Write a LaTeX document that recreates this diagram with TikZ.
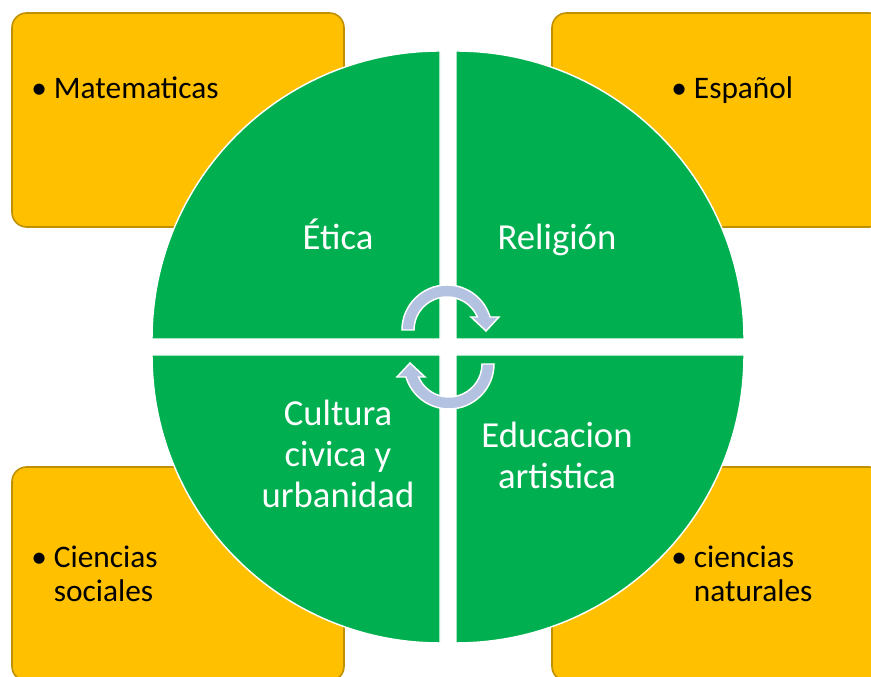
\documentclass[tikz,border=0pt]{standalone}
\usepackage{fontspec}
\setmainfont{Carlito}
\usepackage{tikz}
\definecolor{amarillo}{RGB}{255,192,0}
\definecolor{dorado}{RGB}{191,144,0}
\definecolor{verde}{RGB}{0,176,80}
\definecolor{lila}{RGB}{180,194,226}
\tikzstyle{caja}  =[fill=amarillo, draw=dorado, line width=1.2pt,
                    rounded corners=11pt]
\tikzstyle{cuarto}=[fill=verde, draw=white, line width=1.1pt]
\tikzstyle{giro}  =[fill=lila, draw=white, line width=1.1pt,
                    line join=miter]
\tikzstyle{tcaja} =[anchor=base west, align=left, inner sep=0pt,
                    text=black, font=\fontsize{23.5}{26}\selectfont]
\tikzstyle{tcuarto}=[anchor=base, align=center, inner sep=0pt,
                    text=white, font=\fontsize{27.5}{30.75}\selectfont]
\begin{document}
\begin{tikzpicture}[x=0.75pt, y=0.75pt]
    \useasboundingbox (0,0) rectangle (871,677);
    \clip (0,0) rectangle (871,677);

            % cajas amarillas
            \foreach \x/\y in {12/450, 552/450, 12/-4, 552/-4}
                \draw [caja] (\x,\y) rectangle ++(332,214);

            % cuartos del circulo
            \foreach \x/\y/\a in
                {440/338/90, 456/338/0, 440/322/180, 456/322/270}
                \draw [cuarto] (\x,\y) -- ++(\a:288)
                    arc[start angle=\a, delta angle=90, radius=288] -- cycle;

            % flechas circulares
            \foreach \x/\y/\r in {447/347/0, 449/313/180}
                \draw [giro, shift={(\x,\y)}, rotate=\r]
                    (180:45) arc[start angle=180, end angle=16.8, radius=45]
                    -- (52,13) -- (39,-1) -- (24,13) -- (23.2:33)
                    arc[start angle=23.2, end angle=180, radius=33] -- cycle;

            % textos (base = ultima linea)
            \node (mat) [tcaja] at (31,578) {• Matematicas};
            \node (esp) [tcaja] at (671,578) {• Español};
            \node (soc) [tcaja] at (31,75) {• Ciencias\\\phantom{• }sociales};
            \node (nat) [tcaja] at (671,75) {• ciencias\\\phantom{• }naturales};

            \node (eti) [tcuarto] at (338,427) {Ética};
            \node (rel) [tcuarto] at (557,427) {Religión};
            \node (cul) [tcuarto] at (338,169) {Cultura\\civica y\\urbanidad};
            \node (edu) [tcuarto] at (557,188) {Educacion\\artistica};

    \end{tikzpicture}
\end{document}
